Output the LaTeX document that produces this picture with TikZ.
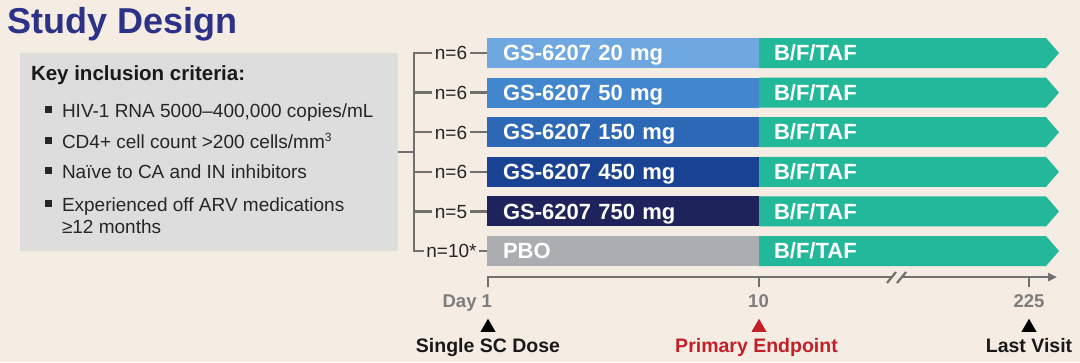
\documentclass[tikz,border=0pt]{standalone}
\usepackage{fontspec}
\setmainfont{Liberation Sans}
\usetikzlibrary{arrows.meta,shapes.geometric}
\definecolor{paper}{RGB}{245,236,227}
\definecolor{boxgray}{RGB}{221,221,221}
\definecolor{titleblue}{RGB}{44,50,135}
\definecolor{dosea}{RGB}{111,168,224}
\definecolor{doseb}{RGB}{66,134,206}
\definecolor{dosec}{RGB}{44,104,181}
\definecolor{dosed}{RGB}{25,67,146}
\definecolor{dosee}{RGB}{30,35,92}
\definecolor{pbogray}{RGB}{170,174,177}
\definecolor{tafgreen}{RGB}{36,184,154}
\definecolor{endred}{RGB}{193,32,40}
\definecolor{linegray}{RGB}{112,112,112}
\definecolor{labgray}{RGB}{125,125,125}
\definecolor{ink}{RGB}{38,38,38}
\tikzstyle{every node}=[inner sep=0pt,outer sep=0pt]
\tikzstyle{dosebar}=[anchor=west,minimum width=272pt,minimum height=30pt,inner xsep=16pt,text width=240pt,align=left,text height=15.5pt,text depth=0pt,text=white,font=\fontsize{22}{22}\selectfont\bfseries]
\tikzstyle{tafbar}=[anchor=west,text height=15.5pt,text depth=0pt,text=white,font=\fontsize{22}{22}\selectfont\bfseries]
\tikzstyle{nlab}=[inner xsep=3pt,text height=13.6pt,text depth=0pt,text=ink,font=\fontsize{19}{19}\selectfont]
\tikzstyle{bracket}=[draw=linegray,line width=2.5pt]
\tikzstyle{axisline}=[draw=linegray,line width=2.6pt]
\tikzstyle{crititem}=[anchor=base west,text=ink,font=\fontsize{19}{22}\selectfont]
\tikzstyle{bul}=[fill=ink,minimum size=7.5pt]
\tikzstyle{ticklab}=[anchor=base,text=labgray,font=\fontsize{18.5}{18.5}\selectfont\bfseries]
\tikzstyle{marker}=[regular polygon,regular polygon sides=3,minimum size=17.5pt,fill=black]
\tikzstyle{eventlab}=[anchor=base,font=\fontsize{19.5}{19.5}\selectfont\bfseries]

\begin{document}
\begin{tikzpicture}[x=1pt,y=-1pt]
	\fill[paper] (0,0) rectangle (1080,362);
	\useasboundingbox (0,0) rectangle (1080,362);
	\node[anchor=base west,text=titleblue,font=\fontsize{36}{36}\selectfont\bfseries] (title) at (7.5,33) {Study Design};
	\node[anchor=north west,fill=boxgray,minimum width=378pt,minimum height=198pt] (crit) at (20,53) {};
		\node[anchor=base west,text=black!90,font=\fontsize{20.5}{20.5}\selectfont\bfseries] (head) at (31,80) {Key inclusion criteria:};
		\node[bul] (u1) at (48.5,109.5) {};
		\node[crititem] (i1) at (62,117) {HIV-1 RNA 5000–400,000 copies/mL};
		\node[bul] (u2) at (48.5,140.5) {};
		\node[crititem] (i2) at (62,148) {CD4+ cell count >200 cells/mm\raisebox{6.5pt}{\fontsize{12}{12}\selectfont 3}};
		\node[bul] (u3) at (48.5,170.5) {};
		\node[crititem] (i3) at (62,178) {Naïve to CA and IN inhibitors};
		\node[bul] (u4) at (48.5,203.5) {};
		\node[crititem] (i4) at (62,211) {Experienced off ARV medications};
		\node[crititem] (i4b) at (62,233) {≥12 months};
	\node[dosebar,fill=dosea] (b1) at (487,53) {GS-6207 20 mg};
	\node[dosebar,fill=doseb] (b2) at (487,92.6) {GS-6207 50 mg};
	\node[dosebar,fill=dosec] (b3) at (487,132.2) {GS-6207 150 mg};
	\node[dosebar,fill=dosed] (b4) at (487,171.8) {GS-6207 450 mg};
	\node[dosebar,fill=dosee] (b5) at (487,211.4) {GS-6207 750 mg};
	\node[dosebar,fill=pbogray] (b6) at (487,251) {PBO};
	\fill[tafgreen] (b1.north east) -- ++(287,0) -- ++(13,15) -- ++(-13,15) -- (b1.south east) -- cycle;
	\fill[tafgreen] (b2.north east) -- ++(287,0) -- ++(13,15) -- ++(-13,15) -- (b2.south east) -- cycle;
	\fill[tafgreen] (b3.north east) -- ++(287,0) -- ++(13,15) -- ++(-13,15) -- (b3.south east) -- cycle;
	\fill[tafgreen] (b4.north east) -- ++(287,0) -- ++(13,15) -- ++(-13,15) -- (b4.south east) -- cycle;
	\fill[tafgreen] (b5.north east) -- ++(287,0) -- ++(13,15) -- ++(-13,15) -- (b5.south east) -- cycle;
	\fill[tafgreen] (b6.north east) -- ++(287,0) -- ++(13,15) -- ++(-13,15) -- (b6.south east) -- cycle;
	\node[tafbar] (t1) at ([xshift=15pt]b1.east) {B/F/TAF};
	\node[tafbar] (t2) at ([xshift=15pt]b2.east) {B/F/TAF};
	\node[tafbar] (t3) at ([xshift=15pt]b3.east) {B/F/TAF};
	\node[tafbar] (t4) at ([xshift=15pt]b4.east) {B/F/TAF};
	\node[tafbar] (t5) at ([xshift=15pt]b5.east) {B/F/TAF};
	\node[tafbar] (t6) at ([xshift=15pt]b6.east) {B/F/TAF};
	\node[nlab] (n1) at (451,53) {n=6};
	\node[nlab] (n2) at (451,92.6) {n=6};
	\node[nlab] (n3) at (451,132.2) {n=6};
	\node[nlab] (n4) at (451,171.8) {n=6};
	\node[nlab] (n5) at (451,211.4) {n=5};
	\node[nlab,inner xsep=2pt] (n6) at (451.5,251) {n=10*};
	\coordinate (k1) at (414,53);
	\coordinate (k6) at (414,251);
	\draw[bracket] (n1.west) -- (k1) -- (k6) -- (n6.west);
	\draw[bracket] (n2.west -| k1) -- (n2.west);
	\draw[bracket] (n3.west -| k1) -- (n3.west);
	\draw[bracket] (n4.west -| k1) -- (n4.west);
	\draw[bracket] (n5.west -| k1) -- (n5.west);
	\draw[bracket] (crit.east) -- (crit.east -| k1);
	\draw[bracket] (n1.east) -- (b1.west);
	\draw[bracket] (n2.east) -- (b2.west);
	\draw[bracket] (n3.east) -- (b3.west);
	\draw[bracket] (n4.east) -- (b4.west);
	\draw[bracket] (n5.east) -- (b5.west);
	\draw[bracket] (n6.east) -- (b6.west);
	\coordinate (d1) at (488,277);
	\coordinate (d10) at (759,277);
	\coordinate (d225) at (1029,277);
	\coordinate (cut1) at (892,277);
	\coordinate (cut2) at (901,277);
	\coordinate (dend) at (1057,277);
	\draw[axisline] (488,287) -- (d1) -- (cut1);
	\draw[axisline,-{Triangle[length=9pt,width=8pt]}] (cut2) -- (dend);
	\draw[axisline] (d10) -- (759,287);
	\draw[axisline] (d225) -- (1029,287);
	\draw[linegray,line width=2.2pt] (887,283) -- (896,272);
	\draw[linegray,line width=2.2pt] (897,283) -- (906,272);
	\node[ticklab,anchor=base east] (l1) at (492,307) {Day 1};
	\node[ticklab] (l10) at (758.5,307) {10};
	\node[ticklab] (l225) at (1029,307) {225};
	\node[marker] (m1) at (488,327.5) {};
	\node[marker,fill=endred] (m10) at (759,327.5) {};
	\node[marker] (m225) at (1029,327.5) {};
	\node[eventlab,text=black!90] (e1) at (488,352) {Single SC Dose};
	\node[eventlab,text=endred] (e10) at (756.5,352) {Primary Endpoint};
	\node[eventlab,text=black!90] (e225) at (1029,352) {Last Visit};
\end{tikzpicture}
\end{document}
